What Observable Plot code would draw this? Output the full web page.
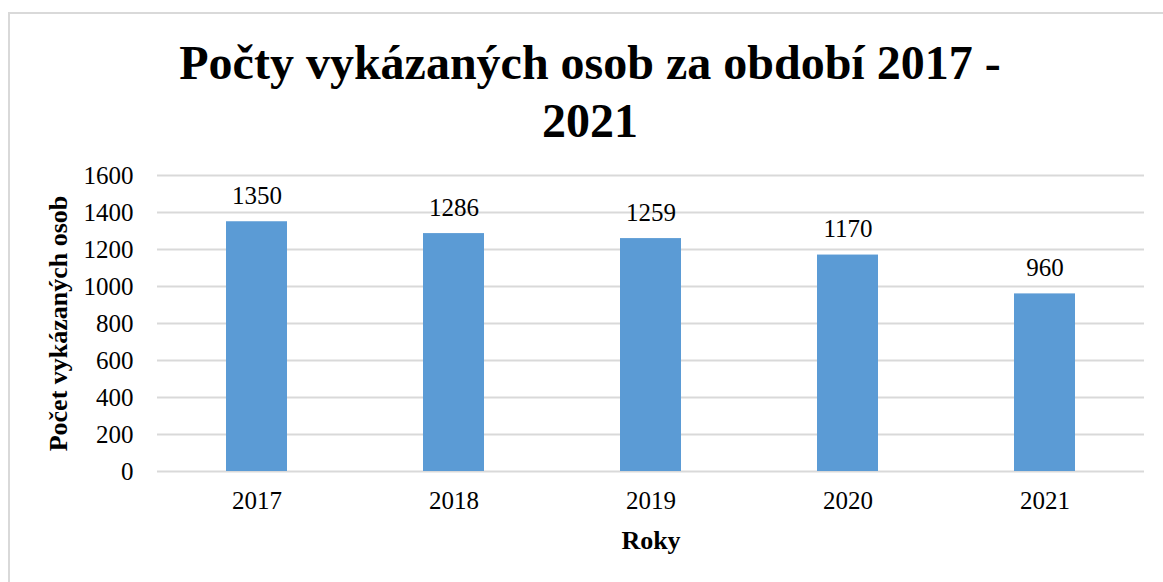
<!DOCTYPE html>
<html>
<head>
<meta charset="utf-8">
<script src="https://cdn.jsdelivr.net/npm/d3@7"></script>
<script src="https://cdn.jsdelivr.net/npm/@observablehq/plot@0.6"></script>
<style>
  html, body { margin: 0; padding: 0; background: #fff; }
  #frame {
    position: absolute; left: 0; top: 0; width: 1163px; height: 582px; overflow: hidden;
    font-family: "Liberation Serif", "Times New Roman", serif;
  }
  #box {
    position: absolute; left: 8px; top: 12px; width: 1200px; height: 600px;
    border-left: 2px solid #d9d9d9; border-top: 2px solid #d9d9d9;
  }
  #title {
    position: absolute; left: 0; top: 34px; width: 1180px; text-align: center;
    font-weight: bold; font-size: 48px; line-height: 58px; color: #000;
  }
  #chart { position: absolute; left: 0; top: 150px; }
  #chart svg text { font-family: "Liberation Serif", "Times New Roman", serif; font-variant-numeric: normal; }
</style>
</head>
<body>
<div id="frame">
  <div id="box"></div>
  <div id="title">Počty vykázaných osob za období 2017 -<br>2021</div>
  <div id="chart"></div>
</div>
<script>
const years = ["2017", "2018", "2019", "2020", "2021"];
const counts = [1350, 1286, 1259, 1170, 960];
const yTicks = [0, 200, 400, 600, 800, 1000, 1200, 1400, 1600];

const data = years.map((y, i) => ({year: y, value: counts[i]}));
const serif = "'Liberation Serif', 'Times New Roman', serif";

const plot = Plot.plot({
  width: 1163,
  height: 432,
  marginLeft: 157,
  marginRight: 19,
  marginTop: 25,
  marginBottom: 111,
  style: { fontFamily: serif, fontSize: "25px", color: "#000", background: "transparent" },
  x: { domain: years, paddingInner: 0.69, paddingOuter: 0.345, label: null },
  y: { domain: [0, 1600], label: null },
  marks: [
    Plot.ruleY(yTicks, { stroke: "#d9d9d9", strokeWidth: 2 }),
    Plot.barY(data, { x: "year", y: "value", fill: "#5B9BD5" }),
    Plot.text(data, { x: "year", y: "value", text: d => String(d.value), dy: -26, fontSize: 25, fontFamily: serif, fill: "#000" }),
    Plot.axisY({ ticks: yTicks, tickSize: 0, tickPadding: 24, label: null, fontSize: 25, fontFamily: serif, tickFormat: d => String(d) }),
    Plot.axisX({ tickSize: 0, tickPadding: 20, label: null, fontSize: 25, fontFamily: serif }),
    Plot.text(["Roky"], { frameAnchor: "bottom", dy: 77, fontWeight: "bold", fontSize: 26, fontFamily: serif, fill: "#000" }),
    Plot.text(["Počet vykázaných osob"], { frameAnchor: "left", textAnchor: "middle", dx: -99, rotate: -90, fontWeight: "bold", fontSize: 26, fontFamily: serif, fill: "#000" })
  ]
});
document.getElementById("chart").appendChild(plot);
</script>
</body>
</html>
